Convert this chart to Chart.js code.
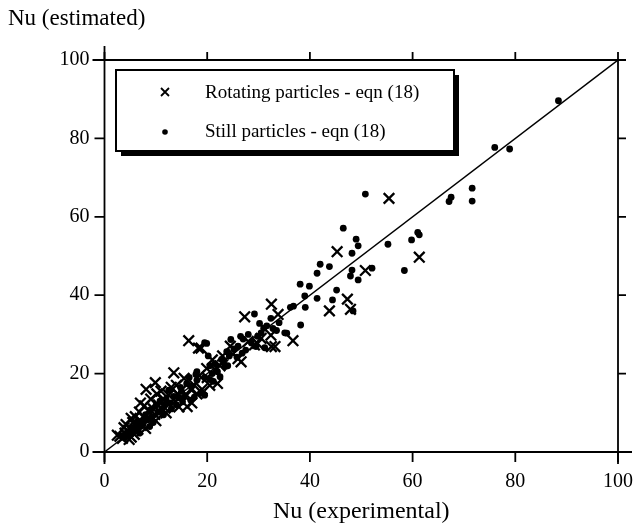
<!DOCTYPE html>
<html>
<head>
<meta charset="utf-8">
<script src="https://cdn.jsdelivr.net/npm/chart.js@4/dist/chart.umd.min.js"></script>
<style>
  body { margin: 0; background: #fff; }
  #wrap { width: 643px; height: 530px; }
</style>
</head>
<body>
<div id="wrap"><canvas id="nuCanvas" width="643" height="530"></canvas></div>
<script>
// Nu estimated vs Nu experimental
const seriesNames = ["Rotating particles - eqn (18)", "Still particles - eqn (18)"];
const tickValues = [0, 20, 40, 60, 80, 100];

// rotating particles (x marks) [experimental, estimated]
const rotatingPoints = [
    [55.4, 64.7], [45.3, 51.1], [61.3, 49.7], [50.8, 46.3], [47.3, 39.0], [43.8, 36.0],
    [47.9, 36.4], [32.5, 37.7], [33.8, 35.1], [36.7, 28.4], [32.5, 26.9], [29.8, 27.7],
    [33.2, 26.9], [27.3, 34.5], [16.4, 28.4], [18.3, 26.5], [13.5, 20.2], [9.9, 17.7],
    [8.1, 16.0], [26.6, 23.0], [29.2, 27.3], [32.4, 29.8], [16.1, 11.6], [19.9, 21.3],
    [2.5, 4.3], [18.8, 26.5], [15.0, 15.8], [14.0, 17.0], [12.5, 14.5], [11.5, 13.5],
    [10.5, 12.0], [9.5, 11.0], [8.5, 10.5], [7.5, 9.0], [7.0, 8.0], [6.2, 7.2],
    [5.5, 7.5], [5.0, 6.0], [4.5, 5.5], [4.0, 4.8], [3.5, 3.5], [3.0, 4.0],
    [6.0, 9.0], [7.8, 11.8], [5.2, 3.8], [8.0, 6.0], [10.0, 8.0], [12.0, 10.0],
    [14.5, 11.5], [17.5, 17.0], [18.5, 19.5], [20.0, 19.0], [21.5, 21.0], [22.5, 22.0],
    [23.0, 24.5], [25.0, 25.0], [26.0, 23.8], [16.0, 14.5], [13.0, 16.5], [11.0, 15.5],
    [17.0, 12.5], [19.0, 16.0], [24.5, 27.0], [28.0, 28.2], [30.5, 29.0], [21.0, 23.5],
    [9.0, 13.5], [6.8, 10.2], [4.2, 7.0], [13.8, 13.0], [11.8, 11.2], [15.5, 18.8],
    [22.0, 17.5], [20.5, 17.0], [4.8, 3.2], [5.8, 4.5], [6.5, 5.8], [7.2, 6.8],
    [8.8, 8.5], [9.8, 9.6], [10.8, 10.2], [12.6, 12.2], [3.8, 6.2], [5.2, 8.6],
    [7.0, 12.5], [10.2, 14.8], [14.2, 14.8], [16.8, 16.0], [18.0, 14.8]
];

// still particles (dots) [experimental, estimated]
const stillPoints = [
    [88.4, 89.6], [76.0, 77.7], [78.9, 77.3], [71.6, 67.3], [71.6, 64.0], [67.1, 63.9],
    [67.5, 65.0], [50.8, 65.8], [46.5, 57.1], [49.0, 54.3], [49.4, 52.6], [48.2, 50.7],
    [55.2, 53.0], [59.8, 54.1], [61.0, 56.0], [61.3, 55.4], [58.4, 46.3], [52.1, 46.9],
    [48.2, 46.4], [47.9, 44.9], [49.4, 43.9], [42.0, 47.9], [43.8, 47.3], [41.4, 45.6],
    [38.1, 42.8], [39.9, 42.3], [45.2, 41.3], [39.0, 39.8], [41.4, 39.2], [44.4, 38.8],
    [48.4, 36.0], [39.1, 36.9], [36.2, 36.9], [36.8, 37.2], [38.2, 32.4], [35.5, 30.3],
    [31.2, 26.6], [29.2, 35.2], [30.2, 32.8], [31.0, 31.6], [30.5, 30.4], [31.6, 32.2],
    [32.4, 34.1], [35.1, 30.4], [29.5, 26.9], [24.6, 28.7], [19.9, 27.7], [23.8, 25.6],
    [19.5, 27.9], [28.0, 30.0], [27.0, 28.8], [26.0, 27.0], [25.2, 26.3], [24.3, 24.5],
    [22.8, 23.6], [21.5, 22.5], [20.5, 22.0], [22.0, 20.5], [23.5, 21.8], [25.8, 24.2],
    [27.5, 26.0], [28.6, 27.8], [26.5, 29.5], [33.5, 31.0], [34.0, 33.0], [19.5, 14.5],
    [18.7, 15.0], [19.5, 19.0], [18.0, 18.3], [17.0, 16.8], [16.0, 17.5], [15.0, 15.5],
    [14.5, 13.8], [13.5, 14.2], [12.8, 12.5], [12.0, 13.5], [11.2, 11.0], [10.5, 10.2],
    [10.0, 11.8], [9.2, 9.0], [8.5, 8.2], [8.0, 9.5], [7.5, 7.0], [7.0, 6.5],
    [6.5, 7.8], [6.0, 5.5], [5.5, 6.0], [5.0, 4.5], [4.5, 5.2], [4.0, 3.8],
    [3.5, 4.2], [20.5, 18.5], [21.0, 20.0], [18.0, 20.5], [16.5, 19.0], [15.5, 14.0],
    [13.0, 11.0], [11.5, 9.5], [9.5, 7.5], [17.5, 14.0], [14.0, 12.0], [6.8, 4.8],
    [8.8, 6.5], [22.5, 19.2], [24.0, 22.0], [12.5, 15.8], [10.8, 13.0], [9.0, 10.8],
    [16.8, 13.2], [15.2, 12.8], [29.8, 29.5], [32.8, 31.5], [26.8, 25.2], [23.2, 23.0],
    [21.2, 18.0], [20.2, 24.5], [17.8, 19.8], [14.8, 16.5], [11.8, 12.2], [7.8, 8.0]
];

// the 1:1 line
const diagonalLine = [[0, 0], [100, 100]];

const serif = "'Liberation Serif', 'Times New Roman', serif";
const toXY = (pts) => pts.map(p => ({ x: p[0], y: p[1] }));

// frame, extended axis lines, y title and boxed legend
const framePlugin = {
    id: "frame",
    afterDraw(chart) {
        const ctx = chart.ctx;
        const a = chart.chartArea;
        const xs = chart.scales.x;
        const ys = chart.scales.y;
        ctx.save();
        ctx.strokeStyle = "#000";
        ctx.lineWidth = 1.8;
        ctx.beginPath();
        ctx.moveTo(a.left, a.top - 14); ctx.lineTo(a.left, a.bottom + 12);
        ctx.moveTo(a.right, a.top); ctx.lineTo(a.right, a.bottom + 12);
        ctx.moveTo(a.left - 12, a.bottom); ctx.lineTo(a.right + 14, a.bottom);
        ctx.moveTo(a.left - 12, a.top); ctx.lineTo(a.right, a.top);
        ctx.stroke();
        // outside ticks on all four sides
        ctx.beginPath();
        tickValues.forEach(v => {
            const px = xs.getPixelForValue(v);
            const py = ys.getPixelForValue(v);
            ctx.moveTo(px, a.bottom); ctx.lineTo(px, a.bottom + 10);
            ctx.moveTo(px, a.top); ctx.lineTo(px, a.top - 8);
            ctx.moveTo(a.left, py); ctx.lineTo(a.left - 10, py);
            ctx.moveTo(a.right, py); ctx.lineTo(a.right + 8, py);
        });
        ctx.stroke();

        ctx.fillStyle = "#000";
        ctx.font = "23px " + serif;
        ctx.textBaseline = "middle";
        ctx.textAlign = "left";
        ctx.fillText("Nu (estimated)", 8, 19);

        // legend box with shadow
        const bx = 116, by = 70, bw = 338, bh = 81;
        ctx.fillRect(bx + 5, by + 5, bw, bh);
        ctx.fillStyle = "#fff";
        ctx.fillRect(bx, by, bw, bh);
        ctx.lineWidth = 2;
        ctx.strokeRect(bx, by, bw, bh);

        ctx.fillStyle = "#000";
        ctx.lineWidth = 1.8;
        ctx.beginPath();
        ctx.moveTo(161, 88); ctx.lineTo(169, 96);
        ctx.moveTo(169, 88); ctx.lineTo(161, 96);
        ctx.stroke();
        ctx.beginPath();
        ctx.arc(165, 132, 2.8, 0, Math.PI * 2);
        ctx.fill();
        ctx.font = "19px " + serif;
        ctx.fillText(chart.data.datasets[0].label, 205, 93);
        ctx.fillText(chart.data.datasets[1].label, 205, 132);
        ctx.restore();
    }
};

const nuChart = new Chart(document.getElementById("nuCanvas"), {
    type: "scatter",
    data: {
        datasets: [
            {
                label: seriesNames[0],
                data: toXY(rotatingPoints),
                pointStyle: "crossRot",
                pointRadius: 7.5,
                borderColor: "#000",
                borderWidth: 2.3,
                pointHoverRadius: 7.5,
            },
            {
                label: seriesNames[1],
                data: toXY(stillPoints),
                pointStyle: "circle",
                pointRadius: 3.4,
                backgroundColor: "#000",
                borderColor: "#000",
                borderWidth: 0,
            },
            {
                label: "1:1",
                type: "line",
                data: toXY(diagonalLine),
                borderColor: "#000",
                borderWidth: 1.4,
                pointRadius: 0,
                fill: false,
            },
        ],
    },
    options: {
        responsive: false,
        animation: false,
        layout: { padding: 0 },
        plugins: {
            legend: { display: false },
            tooltip: { enabled: false },
        },
        scales: {
            x: {
                type: "linear",
                min: 0,
                max: 100,
                afterFit: (s) => { s.height = 78; },
                ticks: {
                    stepSize: 20,
                    color: "#000",
                    padding: 10,
                    font: { family: serif, size: 20 },
                },
                grid: { display: false },
                border: { display: false },
                title: {
                    display: true,
                    text: "Nu (experimental)",
                    color: "#000",
                    font: { family: serif, size: 24 },
                    padding: { top: 0 },
                },
            },
            y: {
                type: "linear",
                min: 0,
                max: 100,
                afterFit: (s) => { s.width = 104.5; },
                ticks: {
                    stepSize: 20,
                    color: "#000",
                    padding: 7,
                    font: { family: serif, size: 20 },
                },
                grid: { display: false },
                border: { display: false },
            },
            x2: {
                type: "linear",
                position: "top",
                min: 0,
                max: 100,
                afterFit: (s) => { s.height = 60; },
                ticks: { display: false },
                grid: { display: false },
                border: { display: false },
            },
            y2: {
                type: "linear",
                position: "right",
                min: 0,
                max: 100,
                afterFit: (s) => { s.width = 17.5; },
                ticks: { display: false },
                grid: { display: false },
                border: { display: false },
            },
        },
    },
    plugins: [framePlugin],
});
</script>
</body>
</html>
